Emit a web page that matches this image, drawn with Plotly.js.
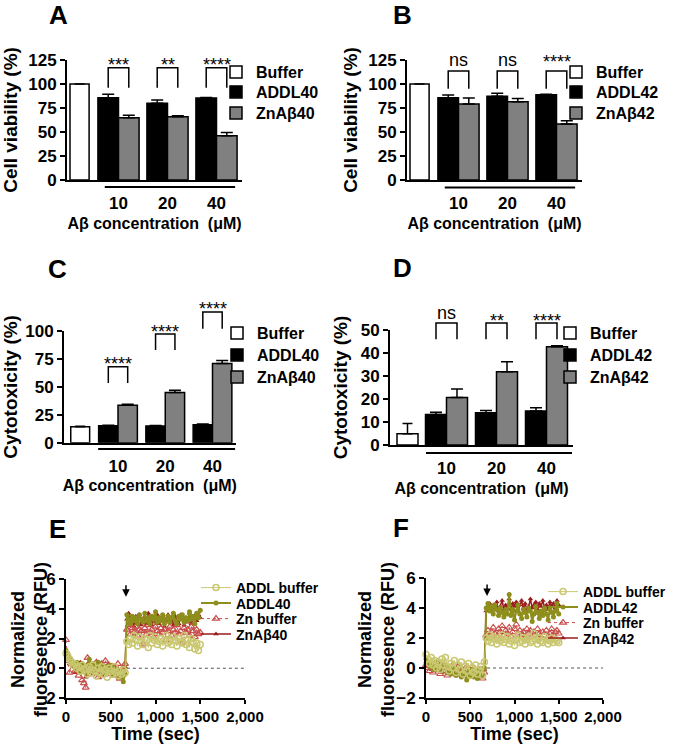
<!DOCTYPE html>
<html><head><meta charset="utf-8">
<script src="https://cdn.plot.ly/plotly-3.0.1.min.js"></script>
<style>html,body{margin:0;padding:0;background:#fff}#chart{width:685px;height:744px}</style>
</head><body><div id="chart"></div>
<script>
// ---------------- DATA ----------------
const CATEGORIES = ["Buffer", "10", "20", "40"];
const CONC_LABELS = ["", "10", "20", "40"];

// Panel A – cell viability, Aβ40
const A_BUFFER = [100];          const A_BUFFER_ERR = [0];
const A_ADDL40 = [85.7, 79.9, 85.4]; const A_ADDL40_ERR = [3.5, 3.4, 0.5];
const A_ZN40 = [64.9, 66.0, 46.2];   const A_ZN40_ERR = [2.5, 1.0, 3.4];
const A_SIG = ["***", "**", "****"];

// Panel B – cell viability, Aβ42
const B_BUFFER = [100];          const B_BUFFER_ERR = [0];
const B_ADDL42 = [85.7, 87.2, 88.9]; const B_ADDL42_ERR = [2.8, 3.1, 0.5];
const B_ZN42 = [79.2, 81.6, 58.3];   const B_ZN42_ERR = [6.2, 3.4, 3.5];
const B_SIG = ["ns", "ns", "****"];

// Panel C – cytotoxicity, Aβ40
const C_BUFFER = [14.3];         const C_BUFFER_ERR = [0.5];
const C_ADDL40 = [15.2, 15.0, 16.0]; const C_ADDL40_ERR = [0.5, 0.5, 0.8];
const C_ZN40 = [33.5, 45.0, 71.0];   const C_ZN40_ERR = [0.9, 2.0, 2.7];
const C_SIG = ["****", "****", "****"];

// Panel D – cytotoxicity, Aβ42
const D_BUFFER = [4.9];          const D_BUFFER_ERR = [4.5];
const D_ADDL42 = [13.3, 14.0, 14.8]; const D_ADDL42_ERR = [0.9, 1.0, 1.4];
const D_ZN42 = [20.6, 31.9, 42.7];   const D_ZN42_ERR = [3.7, 4.3, 0.5];
const D_SIG = ["ns", "**", "****"];

// Panels E/F – time course (sec)
const TIME = [0,20,40,60,80,100,120,140,160,180,200,220,240,260,280,300,320,340,360,380,
  400,420,440,460,480,500,520,540,560,580,600,620,640,660,
  680,700,720,740,760,780,800,820,840,860,880,900,920,940,960,980,1000,1020,1040,1060,
  1080,1100,1120,1140,1160,1180,1200,1220,1240,1260,1280,1300,1320,1340,1360,1380,1400,1420,1440,1460,1480,1500];

const E_ADDL_BUFFER = [1.0,0.8,0.6,0.4,0.2,0.3,0.0,0.1,-0.2,0.2,-0.1,0.0,-0.4,0.1,-0.3,0.2,-0.2,-0.5,0.0,-0.3,
  0.1,-0.4,-0.1,-0.6,0.0,-0.2,-0.4,0.1,-0.3,-0.5,-0.2,-0.4,-0.1,-0.3,
  1.8,1.6,2.0,1.7,2.2,1.9,1.5,2.1,1.8,1.6,2.0,1.9,1.4,2.2,1.7,1.9,2.1,1.6,1.8,2.0,
  1.5,1.9,2.2,1.7,1.8,1.6,2.1,1.9,1.5,2.0,1.8,1.7,2.2,1.6,1.9,1.4,2.0,1.8,1.3,1.7,1.2,1.6];
const E_ADDL40 = [1.2,1.0,0.7,0.5,0.3,0.2,0.4,0.0,-0.2,0.3,0.1,-0.3,0.2,0.6,0.0,0.3,-0.2,0.1,0.4,-0.1,
  0.2,0.0,-0.3,0.1,-0.2,0.2,-0.4,0.0,-0.3,-0.1,-0.6,-0.2,-0.9,-0.4,
  3.6,3.3,3.0,3.5,3.2,3.4,3.0,3.6,3.3,3.1,3.7,3.2,3.4,3.0,3.5,3.3,3.8,3.1,3.4,3.2,
  3.6,3.0,3.3,3.5,3.1,3.4,3.7,3.2,3.0,3.5,3.3,3.6,3.1,3.4,3.2,3.8,3.3,3.5,3.0,3.7,3.4,3.9];
const E_ZN_BUFFER = [1.9,0.5,-0.3,0.3,0.4,-0.2,0.2,-0.5,0.0,-0.8,-1.0,-1.3,0.7,0.2,-0.4,0.1,-0.2,0.4,-0.6,0.0,
  0.3,-0.3,0.5,-0.1,0.2,-0.4,0.1,-0.5,-0.2,0.3,-0.7,-0.1,0.0,0.3,
  2.6,2.9,2.3,2.7,2.4,2.8,2.2,2.6,2.5,1.6,2.7,2.3,2.9,2.4,2.6,2.1,2.8,2.5,2.3,2.7,
  2.4,2.6,1.9,2.5,2.8,2.2,2.6,2.4,2.9,2.3,2.5,1.7,2.7,2.4,2.6,2.2,2.8,2.5,2.1,2.6,2.3,2.4];
const E_ZNAB40 = [1.0,0.8,0.3,0.5,0.1,-0.3,0.2,-0.1,0.4,0.0,-0.2,-0.6,0.3,-0.1,0.2,-0.4,0.1,-0.2,0.3,-0.3,
  0.0,-0.5,-0.1,0.2,-0.3,0.1,-0.2,-0.4,0.0,-0.3,-0.5,-0.1,-0.3,0.1,
  3.3,3.7,3.0,3.4,2.8,3.5,3.1,3.6,2.9,3.3,3.5,3.0,3.7,3.2,2.9,3.4,3.1,3.6,3.0,3.3,
  3.5,2.8,3.2,3.6,3.1,3.4,2.9,3.5,3.2,3.0,3.6,3.3,2.9,3.4,3.1,3.7,3.0,3.3,3.5,3.2,3.6,3.4];

const F_ADDL_BUFFER = [0.9,0.6,0.3,0.7,0.2,0.5,0.0,0.4,-0.1,0.6,0.2,0.7,0.1,-0.2,0.3,0.0,0.5,-0.3,0.2,-0.1,
  0.4,-0.4,0.1,-0.2,0.3,-0.5,0.0,-0.3,0.2,-0.4,-0.1,0.1,-0.5,0.4,
  2.0,1.8,2.2,1.7,2.1,1.9,1.6,2.0,1.8,2.2,1.7,1.9,2.1,1.6,1.8,2.0,1.5,1.9,2.2,1.7,
  1.8,2.0,1.6,1.9,2.1,1.7,1.8,2.3,1.9,1.6,2.0,1.8,1.7,2.1,1.9,1.6,1.8,2.0,1.7,1.9,1.8,1.7];
const F_ADDL42 = [0.6,0.4,0.1,0.3,-0.1,0.2,0.4,0.0,0.3,-0.2,0.1,0.2,-0.3,0.0,-0.4,0.1,-0.2,-0.5,0.0,-0.3,
  -0.6,-0.1,-0.4,-0.8,-0.2,-0.5,-0.1,-0.6,-0.3,-0.7,-0.2,-0.5,-0.4,0.0,
  4.0,4.3,3.8,4.1,3.6,4.2,3.9,3.5,4.0,3.7,3.4,3.9,3.6,4.9,3.5,3.9,3.2,3.8,4.2,3.6,
  3.3,3.9,3.7,3.4,4.0,3.8,3.1,3.6,4.1,3.7,3.3,3.8,3.5,4.0,3.6,3.2,3.9,3.7,3.4,3.8,4.3,3.6];
const F_ZN_BUFFER = [0.2,0.0,-0.2,0.1,-0.3,0.3,-0.1,0.0,-0.4,0.2,-0.2,0.1,-0.5,0.0,-0.3,0.2,-0.4,-0.1,0.1,-0.3,
  0.0,-0.2,-0.5,0.1,-0.4,-0.1,-0.3,0.0,-0.5,-0.2,-0.6,-0.1,-0.7,-0.3,
  2.2,2.5,2.0,2.4,2.7,2.3,2.1,2.6,2.4,2.8,2.2,2.5,2.3,2.7,2.1,2.4,2.6,2.9,2.3,2.5,
  2.2,2.4,2.0,2.6,2.3,2.5,2.1,2.4,2.2,2.6,2.3,2.0,2.4,2.2,2.5,2.1,2.3,2.6,2.2,2.4,2.5,2.3];
const F_ZNAB42 = [0.4,0.1,0.3,-0.1,0.2,0.0,-0.2,0.3,0.1,-0.3,0.0,0.2,-0.4,-0.1,0.1,-0.3,0.0,-0.5,-0.2,0.1,
  -0.4,-0.1,-0.3,0.0,-0.5,-0.2,-0.4,-0.1,-0.6,-0.3,-0.2,-0.5,-0.4,-0.1,
  3.8,4.1,4.3,3.9,4.2,4.0,4.4,3.8,4.1,4.5,3.9,4.2,4.0,4.6,3.9,4.3,4.1,4.4,3.8,4.2,
  4.5,4.0,4.3,3.9,4.1,4.6,4.0,4.2,4.4,3.9,4.3,4.1,4.5,4.0,4.2,3.9,4.4,4.1,4.3,4.0,4.5,4.2];

// ---------------- BUILD ----------------
const W = 685, H = 744;
const FONT = '"Liberation Sans", Arial, Helvetica, sans-serif';
const traces = [], shapes = [], annotations = [];
const layout = {
  width: W, height: H, margin: {l: 0, r: 0, t: 0, b: 0},
  paper_bgcolor: '#fff', plot_bgcolor: 'rgba(0,0,0,0)',
  barmode: 'overlay', hovermode: false, showlegend: true,
  font: {family: FONT, color: '#000'}
};
let legendCount = 0;
function addLegend(textX, rowY, size) {
  legendCount++;
  const id = legendCount === 1 ? 'legend' : 'legend' + legendCount;
  layout[id] = {x: (textX - 44) / W, y: 1 - rowY / H, xanchor: 'left', yanchor: 'middle',
    bgcolor: 'rgba(0,0,0,0)', borderwidth: 0, itemwidth: 30,
    font: {family: FONT, size: size, color: '#000', weight: 'bold'}};
  return id;
}
function letter(txt, px, py) {
  annotations.push({text: txt, x: px / W, y: 1 - py / H, xref: 'paper', yref: 'paper',
    showarrow: false, xanchor: 'center', yanchor: 'middle',
    font: {family: FONT, size: 26, weight: 'bold', color: '#000'}});
}
function axisIds(i) { return {xa: i === 1 ? 'x' : 'x' + i, ya: i === 1 ? 'y' : 'y' + i,
  xk: i === 1 ? 'xaxis' : 'xaxis' + i, yk: i === 1 ? 'yaxis' : 'yaxis' + i}; }

function barPanel(p) {
  const ids = axisIds(p.idx);
  const yr = p.yRange;
  const dom = v => (v - yr[0]) / (yr[1] - yr[0]);
  const xr = [(p.xpx[0] - p.cat0) / p.unit, (p.xpx[1] - p.cat0) / p.unit];
  const plotH = p.ypx[1] - p.ypx[0];
  const tick = {family: FONT, size: 17, weight: 'bold', color: '#000'};
  layout[ids.xk] = {domain: [p.xpx[0] / W, p.xpx[1] / W], range: xr, type: 'category',
    categoryorder: 'array', categoryarray: CATEGORIES, tickvals: CATEGORIES, ticktext: CONC_LABELS,
    showline: true, linewidth: 2, linecolor: '#000', ticks: '', ticklabelstandoff: 7,
    tickfont: tick, showgrid: false, zeroline: false, anchor: ids.ya, fixedrange: true,
    title: {text: 'Aβ concentration\u00a0\u00a0(μM)', font: {family: FONT, size: 16, weight: 'bold'}, standoff: 5}};
  layout[ids.yk] = {domain: [1 - p.ypx[1] / H, 1 - p.ypx[0] / H], range: yr, dtick: p.dtick, tick0: 0,
    showline: true, linewidth: 2, linecolor: '#000', ticks: 'outside', ticklen: 5, tickwidth: 2,
    tickcolor: '#000', tickfont: tick, showgrid: false, zeroline: false, anchor: ids.xa, fixedrange: true,
    title: {text: p.ytitle, font: {family: FONT, size: 19, weight: 'bold'}, standoff: p.ytStand}};
  const eb = (arr, w) => ({type: 'data', symmetric: false, array: arr, arrayminus: arr.map(() => 0),
    color: '#000', thickness: 1.5, width: w});
  const line = {color: '#000', width: 1.5};
  const groups = CATEGORIES.slice(1);
  traces.push({type: 'bar', name: 'Buffer', x: [CATEGORIES[0]], y: p.buffer, error_y: eb(p.bufferErr, 5),
    offset: p.bufOffset, width: p.bufWidth, marker: {color: '#fff', line: line},
    xaxis: ids.xa, yaxis: ids.ya, legend: addLegend(p.legX, p.legRows[0], 16)});
  traces.push({type: 'bar', name: p.names[0], x: groups, y: p.addl, error_y: eb(p.addlErr, 6),
    offset: -p.barW, width: p.barW, marker: {color: '#000', line: line},
    xaxis: ids.xa, yaxis: ids.ya, legend: addLegend(p.legX, p.legRows[1], 16)});
  traces.push({type: 'bar', name: p.names[1], x: groups, y: p.zn, error_y: eb(p.znErr, 6),
    offset: 0, width: p.barW, marker: {color: '#808080', line: line},
    xaxis: ids.xa, yaxis: ids.ya, legend: addLegend(p.legX, p.legRows[2], 16)});
  // brackets + significance labels
  for (let g = 1; g <= 3; g++) {
    const x0 = g - p.barW / 2, x1 = g + p.barW / 2;
    const top = dom(p.brTop[g - 1]), leg = dom(p.brLeg[g - 1]);
    shapes.push({type: 'path', xref: ids.xa, yref: ids.ya + ' domain',
      path: `M${x0},${leg} L${x0},${top} L${x1},${top} L${x1},${leg}`,
      line: {color: '#000', width: 1.5}});
    const isStar = p.sig[g - 1].indexOf('*') >= 0;
    annotations.push({text: p.sig[g - 1], x: g, xref: ids.xa, y: dom(p.sigY[g - 1]), yref: ids.ya + ' domain',
      showarrow: false, xanchor: 'center', yanchor: 'middle', yshift: isStar ? -4 : 0,
      font: {family: FONT, size: 18, color: '#000'}});
  }
  // concentration underline
  const uy = -(p.underPx) / plotH;
  shapes.push({type: 'line', xref: ids.xa, yref: ids.ya + ' domain', x0: p.under[0], x1: p.under[1],
    y0: uy, y1: uy, line: {color: '#000', width: 2}});
  letter(p.letter, p.letterPos[0], p.letterPos[1]);
}

function linePanel(p) {
  const ids = axisIds(p.idx);
  layout[ids.xk] = {domain: [p.xpx[0] / W, p.xpx[1] / W], range: [0, 2000], dtick: 500, tick0: 0,
    tickformat: ',d', showline: true, linewidth: 2, linecolor: '#000', ticks: 'outside', ticklen: 4,
    tickwidth: 2, tickcolor: '#000', tickfont: {family: FONT, size: 15, weight: 'bold', color: '#000'},
    showgrid: false, zeroline: false, anchor: ids.ya, fixedrange: true,
    title: {text: 'Time (sec)', font: {family: FONT, size: 18, weight: 'bold'}, standoff: 10}};
  layout[ids.yk] = {domain: [1 - p.ypx[1] / H, 1 - p.ypx[0] / H], range: [-2, 6], dtick: 2, tick0: 0,
    showline: true, linewidth: 2, linecolor: '#000', ticks: 'outside', ticklen: 5, tickwidth: 2,
    tickcolor: '#000', tickfont: {family: FONT, size: 17, weight: 'bold', color: '#000'},
    showgrid: false, zeroline: false, anchor: ids.xa, fixedrange: true};
  // two-line y-axis title, placed like the reference
  annotations.push({text: 'Normalized<br>fluoresence (RFU)', x: p.ytitleX / W, y: 1 - 640 / H,
    xref: 'paper', yref: 'paper', showarrow: false, textangle: -90, xanchor: 'center', yanchor: 'middle',
    font: {family: FONT, size: 18, weight: 'bold', color: '#000'}});
  shapes.push({type: 'line', xref: ids.xa, yref: ids.ya, x0: p.stepT, x1: 2000, y0: 0, y1: 0,
    layer: 'below', line: {color: '#555', width: 1, dash: 'dot'}});
  annotations.push({text: '', x: p.arrowT, y: 4.8, xref: ids.xa, yref: ids.ya, showarrow: true,
    ax: 0, ay: -13, arrowhead: 2, arrowsize: 1, arrowwidth: 1.5, arrowcolor: '#000'});
  const st = {
    addlBuf: {mode: 'lines+markers', line: {color: '#c9c770', width: 1},
      marker: {symbol: 'circle-open', size: 6, color: '#c9c770', line: {width: 1.5}}},
    addl: {mode: 'lines+markers', line: {color: '#8e8e1c', width: 2},
      marker: {symbol: 'circle', size: 5, color: '#8e8e1c'}},
    znBuf: {mode: 'lines+markers', line: {color: '#c8504c', width: 1, dash: 'dot'},
      marker: {symbol: 'triangle-up-open', size: 6, color: '#c8504c', line: {width: 1.2}}},
    zn: {mode: 'lines+markers', line: {color: '#9b1c1c', width: 1.5},
      marker: {symbol: 'triangle-up', size: 5, color: '#9b1c1c'}}
  };
  const leg = p.legRows.map(r => addLegend(p.legX, r, 14));
  const mk = (name, y, s, l) => Object.assign({type: 'scatter', name: name, x: TIME, y: y,
    xaxis: ids.xa, yaxis: ids.ya, legend: l, cliponaxis: false}, s);
  // drawing order: ZnAβ, Zn buffer, ADDL, ADDL buffer (top)
  traces.push(mk(p.names[3], p.series[3], st.zn, leg[3]));
  traces.push(mk(p.names[2], p.series[2], st.znBuf, leg[2]));
  traces.push(mk(p.names[1], p.series[1], st.addl, leg[1]));
  traces.push(mk(p.names[0], p.series[0], st.addlBuf, leg[0]));
  letter(p.letter, p.letterPos[0], p.letterPos[1]);
}

barPanel({idx: 1, letter: 'A', letterPos: [58, 15], xpx: [67, 242], ypx: [60, 180], unit: 49, cat0: 69.5,
  yRange: [0, 125], dtick: 25, ytitle: 'Cell viability (%)', ytStand: 6, names: ['ADDL40', 'ZnAβ40'],
  buffer: A_BUFFER, bufferErr: A_BUFFER_ERR, addl: A_ADDL40, addlErr: A_ADDL40_ERR, zn: A_ZN40, znErr: A_ZN40_ERR,
  bufOffset: 0.01, bufWidth: 0.39, barW: 0.42, sig: A_SIG, brTop: [117, 117, 117], brLeg: [96, 96, 96],
  sigY: [124, 124, 124], under: [0.72, 3.38], underPx: 7, legX: 260, legRows: [72, 92, 113]});
barPanel({idx: 2, letter: 'B', letterPos: [402, 15], xpx: [407, 582], ypx: [60, 180], unit: 49, cat0: 409.5,
  yRange: [0, 125], dtick: 25, ytitle: 'Cell viability (%)', ytStand: 6, names: ['ADDL42', 'ZnAβ42'],
  buffer: B_BUFFER, bufferErr: B_BUFFER_ERR, addl: B_ADDL42, addlErr: B_ADDL42_ERR, zn: B_ZN42, znErr: B_ZN42_ERR,
  bufOffset: 0.01, bufWidth: 0.39, barW: 0.42, sig: B_SIG, brTop: [113.5, 113.5, 113.5], brLeg: [95, 95, 95],
  sigY: [125, 125, 127], under: [0.72, 3.38], underPx: 7.5, legX: 600, legRows: [72, 92, 113]});
barPanel({idx: 3, letter: 'C', letterPos: [57, 269], xpx: [64, 235.5], ypx: [331, 442.7], unit: 47.25, cat0: 70.75,
  yRange: [0, 100], dtick: 25, ytitle: 'Cytotoxicity (%)', ytStand: 6, names: ['ADDL40', 'ZnAβ40'],
  buffer: C_BUFFER, bufferErr: C_BUFFER_ERR, addl: C_ADDL40, addlErr: C_ADDL40_ERR, zn: C_ZN40, znErr: C_ZN40_ERR,
  bufOffset: 0.0, bufWidth: 0.4, barW: 0.41, sig: C_SIG, brTop: [68, 97.3, 117], brLeg: [53.5, 83, 102],
  sigY: [74, 103, 123], under: [0.58, 3.48], underPx: 6.3, legX: 261, legRows: [333, 355, 377]});
barPanel({idx: 4, letter: 'D', letterPos: [402, 268], xpx: [390, 573], ypx: [330, 445], unit: 50, cat0: 396.5,
  yRange: [0, 50], dtick: 10, ytitle: 'Cytotoxicity (%)', ytStand: 8, names: ['ADDL42', 'ZnAβ42'],
  buffer: D_BUFFER, bufferErr: D_BUFFER_ERR, addl: D_ADDL42, addlErr: D_ADDL42_ERR, zn: D_ZN42, znErr: D_ZN42_ERR,
  bufOffset: 0.01, bufWidth: 0.42, barW: 0.42, sig: D_SIG, brTop: [53, 53, 53], brLeg: [46, 46, 46],
  sigY: [57.4, 55.8, 55.8], under: [0.59, 3.51], underPx: 8, legX: 594, legRows: [333, 355, 377]});
linePanel({idx: 5, letter: 'E', letterPos: [57, 529], xpx: [66, 245], ypx: [579, 698], stepT: 680, arrowT: 670,
  ytitleX: 29, names: ['ADDL buffer', 'ADDL40', 'Zn buffer', 'ZnAβ40'],
  series: [E_ADDL_BUFFER, E_ADDL40, E_ZN_BUFFER, E_ZNAB40], legX: 240, legRows: [588, 603.5, 619, 634.5]});
linePanel({idx: 6, letter: 'F', letterPos: [401, 528], xpx: [426, 603], ypx: [578, 698], stepT: 690, arrowT: 690,
  ytitleX: 376, names: ['ADDL buffer', 'ADDL42', 'Zn buffer', 'ZnAβ42'],
  series: [F_ADDL_BUFFER, F_ADDL42, F_ZN_BUFFER, F_ZNAB42], legX: 587, legRows: [592, 607.5, 623, 638.5]});

layout.shapes = shapes;
layout.annotations = annotations;
Plotly.newPlot('chart', traces, layout, {staticPlot: true, displayModeBar: false});
</script></body></html>
